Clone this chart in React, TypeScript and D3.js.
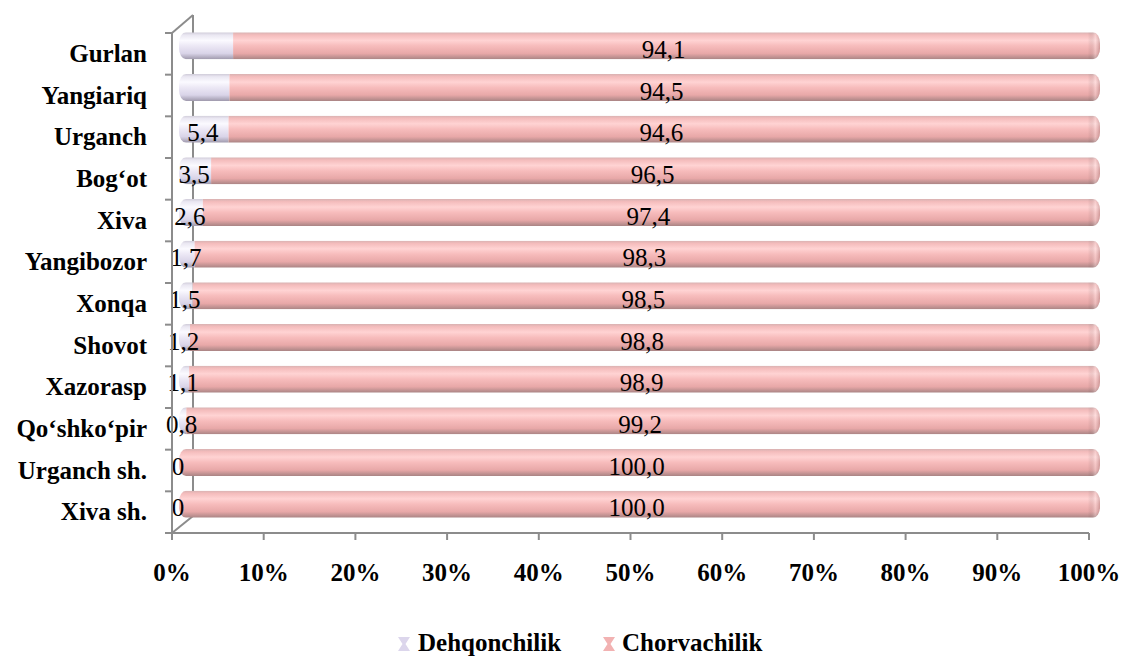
import React from "react";
import * as d3 from "d3";

const categories = ["Gurlan", "Yangiariq", "Urganch", "Bog‘ot", "Xiva", "Yangibozor", "Xonqa", "Shovot", "Xazorasp", "Qo‘shko‘pir", "Urganch sh.", "Xiva sh."];
const dehqonchilik = [5.9, 5.5, 5.4, 3.5, 2.6, 1.7, 1.5, 1.2, 1.1, 0.8, 0, 0];
const chorvachilik = [94.1, 94.5, 94.6, 96.5, 97.4, 98.3, 98.5, 98.8, 98.9, 99.2, 100.0, 100.0];
const dehqLabels = ["", "", "5,4", "3,5", "2,6", "1,7", "1,5", "1,2", "1,1", "0,8", "0", "0"];
const chorvLabels = ["94,1", "94,5", "94,6", "96,5", "97,4", "98,3", "98,5", "98,8", "98,9", "99,2", "100,0", "100,0"];
const xTicks = [0, 10, 20, 30, 40, 50, 60, 70, 80, 90, 100];
const seriesNames = ["Dehqonchilik", "Chorvachilik"];

const W = 1126, H = 657;
const X0 = 172, X1 = 1089, Y0 = 33, Y1 = 533;
const DX = 21, DY = 17; // depth of back wall
const BX = 7, BY = 8; // bar offset into depth
const FONT = "'Times New Roman'";

export default function App() {
  const x = d3.scaleLinear().domain([0, 100]).range([X0, X1]);
  const y = d3.scaleBand<string>().domain(categories).range([Y0, Y1]).paddingInner(0).paddingOuter(0);
  const bw = y.bandwidth();
  const barH = 27;
  const axisColor = "#8c8c8c";
  const ts = (bold: boolean): React.CSSProperties => ({ fontFamily: FONT, fontSize: 25, fontWeight: bold ? 700 : 400 });

  return (
    <svg width={W} height={H} style={{ position: "absolute", left: 0, top: 0, background: "#fff", fontFamily: FONT }}>
      <style>{`text { font-family: 'Times New Roman', 'Liberation Serif', serif; }`}</style>
      <defs>
        <linearGradient id="gPink" x1="0" y1="0" x2="0" y2="1">
          <stop offset="0" stopColor="#d8b2b2" />
          <stop offset="0.1" stopColor="#f4bcbc" />
          <stop offset="0.3" stopColor="#ffd3d3" />
          <stop offset="0.5" stopColor="#f7bcbc" />
          <stop offset="0.78" stopColor="#e8a8a8" />
          <stop offset="1" stopColor="#a98484" />
        </linearGradient>
        <linearGradient id="gLav" x1="0" y1="0" x2="0" y2="1">
          <stop offset="0" stopColor="#d0ccd9" />
          <stop offset="0.1" stopColor="#eae7f2" />
          <stop offset="0.3" stopColor="#fbfaff" />
          <stop offset="0.5" stopColor="#ece8f5" />
          <stop offset="0.78" stopColor="#d9d4e8" />
          <stop offset="1" stopColor="#9f99ac" />
        </linearGradient>
        <linearGradient id="gCap" x1="0" y1="0" x2="1" y2="0">
          <stop offset="0" stopColor="#000" stopOpacity="0" />
          <stop offset="0.6" stopColor="#fff" stopOpacity="0.25" />
          <stop offset="1" stopColor="#8a5a5a" stopOpacity="0.35" />
        </linearGradient>
      </defs>

      {/* back wall & depth lines */}
      <line x1={X0 + DX} y1={Y0 - DY - 1} x2={X0 + DX} y2={Y1 - DY} stroke={axisColor} strokeWidth={2} />
      <line x1={X0} y1={Y0} x2={X0 + DX} y2={Y0 - DY - 1} stroke={axisColor} strokeWidth={2} />
      <line x1={X0} y1={Y1} x2={X0 + DX} y2={Y1 - DY} stroke={axisColor} strokeWidth={2} />

      {/* bars */}
      {categories.map((c, i) => {
        const cy = (y(c) as number) + bw / 2 - BY;
        const top = cy - barH / 2;
        const xs = x(0) + BX;
        const xe = x(100) + BX + 4;
        const xm = x(dehqonchilik[i]) + BX;
        const clipId = `clip${i}`;
        return (
          <g key={c}>
            <clipPath id={clipId}>
              <rect x={xs} y={top} width={xe - xs} height={barH} rx={7} ry={11} />
            </clipPath>
            <g clipPath={`url(#${clipId})`}>
              {dehqonchilik[i] > 0 && (
                <rect x={xs} y={top} width={xm - xs} height={barH} fill="url(#gLav)" />
              )}
              <rect x={xm} y={top} width={xe - xm} height={barH} fill="url(#gPink)" />
              <rect x={xe - 12} y={top} width={12} height={barH} fill="url(#gCap)" />
            </g>
          </g>
        );
      })}

      {/* data labels */}
      {categories.map((c, i) => {
        const cy = (y(c) as number) + bw / 2 - BY + 4;
        const d = dehqonchilik[i];
        const cv = chorvachilik[i];
        return (
          <g key={"l" + c} fill="#000">
            {dehqLabels[i] && (
              <text x={x(d / 2) + 6} y={cy} dy="0.33em" textAnchor="middle" style={ts(false)}>{dehqLabels[i]}</text>
            )}
            <text x={x(d + cv / 2) + 6} y={cy} dy="0.33em" textAnchor="middle" style={ts(false)}>{chorvLabels[i]}</text>
          </g>
        );
      })}

      {/* front vertical axis */}
      <line x1={X0} y1={Y0} x2={X0} y2={Y1} stroke={axisColor} strokeWidth={2} />
      {d3.range(categories.length + 1).map((k) => {
        const yy = Y0 + k * bw;
        return <line key={"yt" + k} x1={X0 - 7} y1={yy} x2={X0} y2={yy} stroke={axisColor} strokeWidth={2} />;
      })}

      {/* x axis */}
      <line x1={X0} y1={Y1} x2={X1} y2={Y1} stroke={axisColor} strokeWidth={2} />
      {xTicks.map((t) => (
        <g key={"xt" + t}>
          <line x1={x(t)} y1={Y1} x2={x(t)} y2={Y1 + 7} stroke={axisColor} strokeWidth={2} />
          <text x={x(t)} y={581} textAnchor="middle" style={ts(true)}>{t}%</text>
        </g>
      ))}

      {/* category labels */}
      {categories.map((c) => (
        <text key={"cl" + c} x={147} y={(y(c) as number) + bw / 2} dy="0.33em" textAnchor="end" style={ts(true)}>{c}</text>
      ))}

      {/* legend */}
      {seriesNames.map((s, i) => {
        const mx = i === 0 ? 404 : 609;
        const tx = i === 0 ? 418 : 622;
        const fill = i === 0 ? "#dcd6ec" : "#f2b2b2";
        const my = 644;
        return (
          <g key={"lg" + s}>
            <path d={`M${mx - 6},${my - 7} L${mx + 6},${my - 7} L${mx + 1.5},${my} L${mx + 6},${my + 7} L${mx - 6},${my + 7} L${mx - 1.5},${my} Z`} fill={fill} />
            <text x={tx} y={651} style={ts(true)}>{s}</text>
          </g>
        );
      })}
    </svg>
  );
}
